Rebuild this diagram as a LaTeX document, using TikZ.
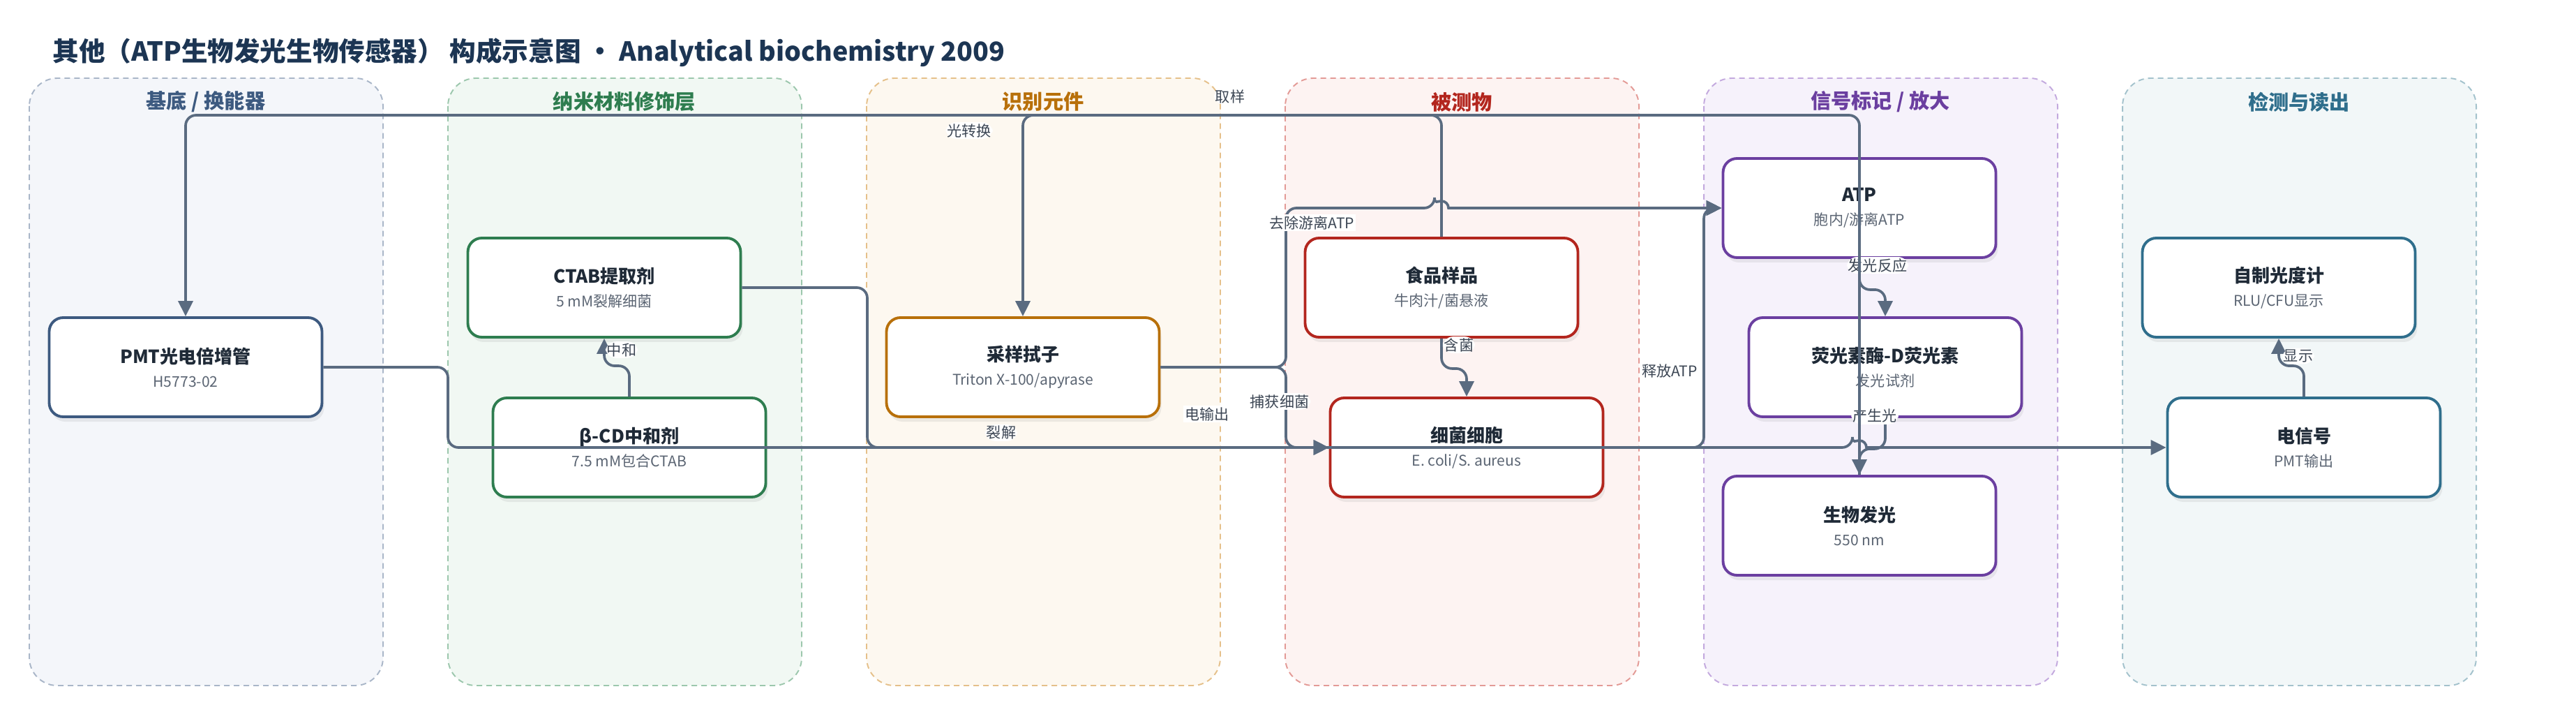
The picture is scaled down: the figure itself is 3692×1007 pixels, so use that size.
\documentclass[tikz,border=0pt]{standalone}
\usepackage{fontspec}
\setmainfont{Noto Sans CJK SC}
\usetikzlibrary{arrows.meta,shadows}

\definecolor{titleblue}{HTML}{1C3553}
\definecolor{linkgray}{HTML}{5A6B80}
\definecolor{textdark}{HTML}{1F2A37}
\definecolor{subgray}{HTML}{5B6573}
\definecolor{labeldark}{HTML}{3C4654}
\definecolor{navy}{HTML}{3D5A80}
\definecolor{navyfill}{HTML}{F4F6FA}
\definecolor{navyline}{HTML}{A9B6C8}
\definecolor{leaf}{HTML}{2E7D4F}
\definecolor{leaffill}{HTML}{F1F8F3}
\definecolor{leafline}{HTML}{9CC7AD}
\definecolor{amber}{HTML}{B8700A}
\definecolor{amberfill}{HTML}{FDF8F0}
\definecolor{amberline}{HTML}{E5C08A}
\definecolor{brick}{HTML}{B3261E}
\definecolor{brickfill}{HTML}{FDF3F2}
\definecolor{brickline}{HTML}{E39A96}
\definecolor{plum}{HTML}{6B3FA0}
\definecolor{plumfill}{HTML}{F6F2FB}
\definecolor{plumline}{HTML}{C3A9DE}
\definecolor{teal}{HTML}{2F6E8C}
\definecolor{tealfill}{HTML}{F2F7F8}
\definecolor{tealline}{HTML}{A3C2CC}

\newcommand{\subtext}[1]{{\mdseries\fontsize{6}{7}\selectfont\color{subgray}#1}}

\begin{document}
\begin{tikzpicture}[
    x=0.1mm, y=-0.1mm,
    lane/.style={dashed, dash pattern=on 0.8mm off 0.6mm, line width=0.55pt, rounded corners=4mm},
    lanetitle/.style={font=\bfseries\fontsize{8.3}{10}\selectfont},
    box/.style={rectangle, rounded corners=2mm, fill=white, line width=1.1pt, minimum width=39.1mm, minimum height=14.2mm, align=center, text=textdark, font=\bfseries\fontsize{7.4}{9.7}\selectfont, drop shadow={opacity=0.13, shadow xshift=0.3mm, shadow yshift=-0.7mm}},
    link/.style={draw=linkgray, line width=1.05pt, rounded corners=1.5mm, -{Triangle[length=2.2mm,width=2.1mm]}},
    lbl/.style={fill=white, inner sep=0.6pt, text=labeldark, font=\fontsize{6}{7}\selectfont}
    ]
    \useasboundingbox (0,0) rectangle (3692,1007);

    \node [anchor=west, inner sep=0pt, text=titleblue, font=\bfseries\fontsize{10.7}{13}\selectfont] (title) at (75,75) {其他（ATP生物发光生物传感器） 构成示意图 · Analytical biochemistry 2009};

    % lanes
    \draw [lane, draw=navyline, fill=navyfill] (42,112) rectangle (549,982);
    \draw [lane, draw=leafline, fill=leaffill] (642,112) rectangle (1149,982);
    \draw [lane, draw=amberline, fill=amberfill] (1242,112) rectangle (1749,982);
    \draw [lane, draw=brickline, fill=brickfill] (1842,112) rectangle (2349,982);
    \draw [lane, draw=plumline, fill=plumfill] (2442,112) rectangle (2949,982);
    \draw [lane, draw=tealline, fill=tealfill] (3042,112) rectangle (3549,982);

    \node [lanetitle, text=navy] (t1) at (295,146) {基底 / 换能器};
    \node [lanetitle, text=leaf] (t2) at (895,146) {纳米材料修饰层};
    \node [lanetitle, text=amber] (t3) at (1495,146) {识别元件};
    \node [lanetitle, text=brick] (t4) at (2095,146) {被测物};
    \node [lanetitle, text=plum] (t5) at (2695,146) {信号标记 / 放大};
    \node [lanetitle, text=teal] (t6) at (3295,146) {检测与读出};

    % components
    \node [box, draw=navy] (pmt) at (266,526) {PMT光电倍增管\\\subtext{H5773-02}};
    \node [box, draw=leaf] (ctab) at (866,412) {CTAB提取剂\\\subtext{5 mM裂解细菌}};
    \node [box, draw=leaf] (bcd) at (902,641) {β-CD中和剂\\\subtext{7.5 mM包合CTAB}};
    \node [box, draw=amber] (swab) at (1466,526) {采样拭子\\\subtext{Triton X-100/apyrase}};
    \node [box, draw=brick] (food) at (2066,412) {食品样品\\\subtext{牛肉汁/菌悬液}};
    \node [box, draw=brick] (cell) at (2102,641) {细菌细胞\\\subtext{E. coli/S. aureus}};
    \node [box, draw=plum] (atp) at (2665,298) {ATP\\\subtext{胞内/游离ATP}};
    \node [box, draw=plum] (luc) at (2702,526) {荧光素酶-D荧光素\\\subtext{发光试剂}};
    \node [box, draw=plum] (glow) at (2665,753) {生物发光\\\subtext{550 nm}};
    \node [box, draw=teal] (meter) at (3266,412) {自制光度计\\\subtext{RLU/CFU显示}};
    \node [box, draw=teal] (signal) at (3302,641) {电信号\\\subtext{PMT输出}};

    \coordinate (topline) at (0,165);

    % short links
    \draw [link] (bcd.north) -- ++(0,-44) -| (ctab.south) node [lbl] at (891,501) {中和};
    \draw [link] (food.south) -- ++(0,43) -| (cell.north) node [lbl] at (2091,494) {含菌};
    \draw [link] (atp.south) -- ++(0,44) -| (luc.north) node [lbl] at (2691,380) {发光反应};
    \draw [link] (luc.south) -- ++(0,44) -| (glow.north) node [lbl] at (2687,596) {产生光};
    \draw [link] (signal.north) -- ++(0,-44) -| (meter.south) node [lbl] at (3294,510) {显示};

    % long links
    \draw [link] (pmt.east) -| (642,641) -- (2655,641) [sharp corners] arc [start angle=180, end angle=0, radius=1mm] -- (signal.west) node [lbl] at (1730,593) {电输出};
    \draw [link] (ctab.east) -| (1243,641) -- (cell.west) node [lbl] at (1435,620) {裂解};
    \draw [link] (swab.east) -| (1843,641) -- (cell.west) node [lbl] at (1834,575) {捕获细菌};
    \draw [link] (swab.east) -| (1843,298) -- (2056,298) [sharp corners] arc [start angle=180, end angle=0, radius=1mm] -- (atp.west) node [lbl] at (1880,319) {去除游离ATP};
    \draw [link] (cell.east) -| (2442,298) -- (atp.west) node [lbl] at (2393,531) {释放ATP};
    \draw [link] (food.north) -- (food.north |- topline) -| (swab.north) node [lbl] at (1763,138) {取样};
    \draw [link] (glow.north) -- (glow.north |- topline) -| (pmt.north) node [lbl] at (1389,187) {光转换};

\end{tikzpicture}
\end{document}
